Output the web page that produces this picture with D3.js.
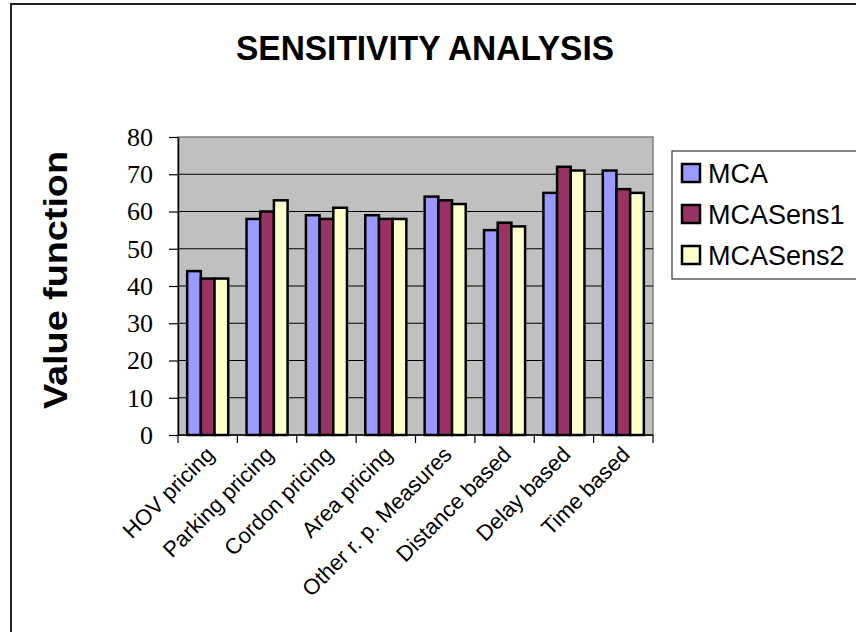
<!DOCTYPE html>
<html>
<head>
<meta charset="utf-8">
<script src="https://cdn.jsdelivr.net/npm/d3@7"></script>
<style>
  html, body { margin: 0; padding: 0; background: #fff; }
  svg { display: block; }
</style>
</head>
<body>
<svg id="chart" width="856" height="632"></svg>
<script>
// Sensitivity analysis: value function per road-pricing option
const categories = ["HOV pricing", "Parking pricing", "Cordon pricing", "Area pricing",
                    "Other r. p. Measures", "Distance based", "Delay based", "Time based"];
const seriesNames = ["MCA", "MCASens1", "MCASens2"];
const mca      = [44, 58, 59, 59, 64, 55, 65, 71];
const mcaSens1 = [42, 60, 58, 58, 63, 57, 72, 66];
const mcaSens2 = [42, 63, 61, 58, 62, 56, 71, 65];
const seriesColors = ["#9999FF", "#993366", "#FFFFCC"];
const yTicks = [0, 10, 20, 30, 40, 50, 60, 70, 80];

const seriesValues = [mca, mcaSens1, mcaSens2];
const rows = categories.map((c, i) => ({
  category: c,
  values: seriesNames.map((s, j) => ({ series: s, value: seriesValues[j][i] }))
}));

const svg = d3.select("#chart");
const plot = { left: 178, right: 653, top: 137, bottom: 435 };
const sans = "'Liberation Sans', Arial, sans-serif";

// outer chart frame
svg.append("rect")
  .attr("x", 11).attr("y", 4).attr("width", 900).attr("height", 700)
  .attr("fill", "#fff").attr("stroke", "#222").attr("stroke-width", 2);

const x0 = d3.scaleBand().domain(categories).range([plot.left, plot.right]).padding(0);
const x1 = d3.scaleBand().domain(seriesNames).range([0, x0.bandwidth()])
  .paddingInner(0).paddingOuter(0.67);
const y = d3.scaleLinear().domain([0, 80]).range([plot.bottom, plot.top]);
const color = d3.scaleOrdinal().domain(seriesNames).range(seriesColors);

// plot area
svg.append("rect")
  .attr("x", plot.left).attr("y", plot.top)
  .attr("width", plot.right - plot.left).attr("height", plot.bottom - plot.top)
  .attr("fill", "#C0C0C0").attr("stroke", "#808080").attr("stroke-width", 1.5);

// gridlines
svg.append("g")
  .selectAll("line")
  .data(yTicks.filter(t => t > 0 && t < 80))
  .join("line")
  .attr("x1", plot.left).attr("x2", plot.right)
  .attr("y1", d => y(d)).attr("y2", d => y(d))
  .attr("stroke", "#000").attr("stroke-width", 1);

// bars
const groups = svg.append("g")
  .selectAll("g")
  .data(rows)
  .join("g")
  .attr("transform", d => `translate(${x0(d.category)},0)`);

groups.selectAll("rect")
  .data(d => d.values)
  .join("rect")
  .attr("x", d => x1(d.series))
  .attr("y", d => y(d.value))
  .attr("width", x1.bandwidth())
  .attr("height", d => y(0) - y(d.value))
  .attr("fill", d => color(d.series))
  .attr("stroke", "#000")
  .attr("stroke-width", 2.5);

// y axis
const yAxis = svg.append("g")
  .attr("transform", `translate(${plot.left},0)`)
  .call(d3.axisLeft(y).tickValues(yTicks).tickSize(9).tickPadding(16).tickSizeOuter(0));
yAxis.select(".domain").attr("stroke", "#000").attr("stroke-width", 1.5);
yAxis.selectAll(".tick line").attr("stroke", "#000").attr("stroke-width", 1.2);
yAxis.selectAll(".tick text")
  .attr("font-family", "'Liberation Serif', 'Times New Roman', serif")
  .attr("font-size", 26).attr("fill", "#000");

// x axis: ticks at category boundaries
const xAxis = svg.append("g").attr("transform", `translate(0,${plot.bottom})`);
xAxis.append("line")
  .attr("x1", plot.left).attr("x2", plot.right)
  .attr("stroke", "#000").attr("stroke-width", 1.5);
const boundaries = categories.map(c => x0(c)).concat([x0(categories[categories.length - 1]) + x0.bandwidth()]);
xAxis.selectAll(".bound")
  .data(boundaries)
  .join("line")
  .attr("class", "bound")
  .attr("x1", d => d).attr("x2", d => d)
  .attr("y1", 0).attr("y2", 8)
  .attr("stroke", "#000").attr("stroke-width", 1.2);
xAxis.selectAll("text")
  .data(categories)
  .join("text")
  .attr("transform", d => `translate(${x0(d) + x0.bandwidth() / 2 - 3},${10}) rotate(-45)`)
  .attr("text-anchor", "end")
  .attr("dy", "0.7em")
  .attr("font-family", sans)
  .attr("font-size", 22)
  .attr("fill", "#000")
  .text(d => d);

// title
svg.append("text")
  .attr("x", 425).attr("y", 60)
  .attr("text-anchor", "middle")
  .attr("font-family", sans)
  .attr("font-weight", "bold").attr("font-size", 35)
  .attr("textLength", 378).attr("lengthAdjust", "spacingAndGlyphs")
  .text("SENSITIVITY ANALYSIS");

// y axis title
svg.append("text")
  .attr("transform", "translate(67,280) rotate(-90)")
  .attr("text-anchor", "middle")
  .attr("font-family", sans)
  .attr("font-weight", "bold").attr("font-size", 33)
  .attr("textLength", 258).attr("lengthAdjust", "spacingAndGlyphs")
  .text("Value function");

// legend
const legend = svg.append("g");
legend.append("rect")
  .attr("x", 672).attr("y", 151).attr("width", 200).attr("height", 128)
  .attr("fill", "#fff").attr("stroke", "#333").attr("stroke-width", 1.2);
const items = legend.selectAll("g.item")
  .data(seriesNames)
  .join("g")
  .attr("class", "item")
  .attr("transform", (d, i) => `translate(682,${173 + i * 41})`);
items.append("rect")
  .attr("x", 0).attr("y", -9).attr("width", 18).attr("height", 18)
  .attr("fill", d => color(d)).attr("stroke", "#000").attr("stroke-width", 2.5);
items.append("text")
  .attr("x", 26).attr("y", 0).attr("dy", "0.36em")
  .attr("font-family", sans)
  .attr("font-size", 27)
  .text(d => d);
</script>
</body>
</html>
